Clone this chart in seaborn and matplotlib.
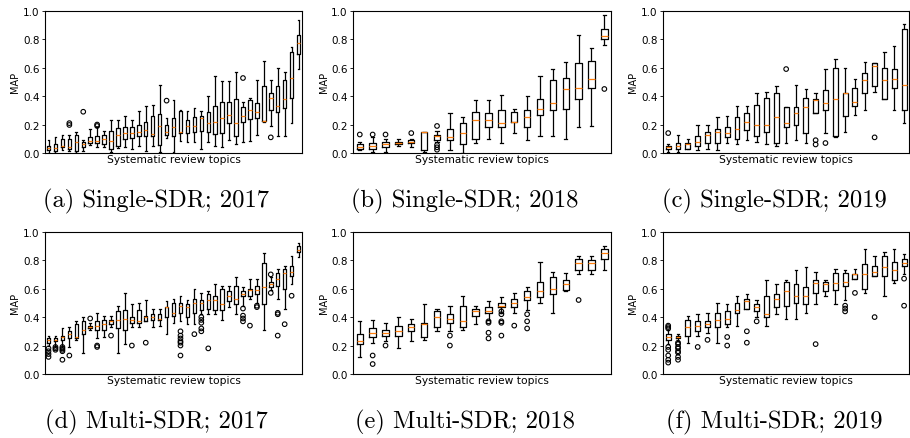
import pandas as pd
import seaborn as sns
import matplotlib.pyplot as plt
from matplotlib.markers import MarkerStyle

# every box: (whisker low, q1, median, q3, whisker high), then the outliers per box
single_2017 = [
    (0.00, 0.02, 0.035, 0.05, 0.09), (0.00, 0.015, 0.035, 0.06, 0.11), (0.02, 0.04, 0.05, 0.10, 0.13),
    (0.015, 0.03, 0.04, 0.10, 0.13), (0.00, 0.015, 0.08, 0.13, 0.145), (0.015, 0.04, 0.06, 0.08, 0.09),
    (0.055, 0.07, 0.085, 0.115, 0.17), (0.045, 0.07, 0.085, 0.117, 0.18), (0.04, 0.063, 0.098, 0.126, 0.157),
    (0.01, 0.028, 0.082, 0.152, 0.234), (0.033, 0.05, 0.126, 0.176, 0.234), (0.04, 0.10, 0.138, 0.18, 0.262),
    (0.028, 0.103, 0.138, 0.18, 0.234), (0.05, 0.122, 0.145, 0.20, 0.293), (0.016, 0.117, 0.164, 0.215, 0.328),
    (0.05, 0.117, 0.133, 0.262, 0.34), (0.01, 0.058, 0.187, 0.274, 0.478), (0.103, 0.129, 0.15, 0.197, 0.246),
    (0.01, 0.122, 0.185, 0.244, 0.375), (0.082, 0.14, 0.15, 0.293, 0.30), (0.08, 0.138, 0.192, 0.234, 0.297),
    (0.08, 0.15, 0.192, 0.25, 0.314), (0.028, 0.157, 0.244, 0.262, 0.293), (0.08, 0.15, 0.21, 0.286, 0.398),
    (0.05, 0.133, 0.22, 0.333, 0.543), (0.04, 0.14, 0.244, 0.36, 0.504), (0.09, 0.21, 0.27, 0.36, 0.508),
    (0.063, 0.117, 0.21, 0.38, 0.567), (0.08, 0.22, 0.26, 0.325, 0.356), (0.087, 0.24, 0.304, 0.375, 0.386),
    (0.126, 0.246, 0.286, 0.351, 0.515), (0.215, 0.227, 0.227, 0.468, 0.649), (0.192, 0.30, 0.39, 0.42, 0.513),
    (0.122, 0.29, 0.333, 0.468, 0.595), (0.122, 0.318, 0.38, 0.515, 0.567), (0.21, 0.384, 0.527, 0.712, 0.742),
    (0.59, 0.696, 0.773, 0.83, 0.937),
]
single_2017_out = [
    [], [], [], [0.197, 0.21], [], [0.29], [], [0.19, 0.20], [], [], [], [], [], [], [], [], [],
    [0.368], [], [], [], [], [], [], [], [], [], [], [0.527], [], [], [], [0.11], [], [], [], [],
]

single_2018 = [
    (0.02, 0.03, 0.04, 0.06, 0.08), (0.01, 0.03, 0.05, 0.07, 0.11), (0.01, 0.04, 0.06, 0.08, 0.10),
    (0.05, 0.06, 0.07, 0.08, 0.10), (0.04, 0.07, 0.08, 0.09, 0.10), (0.01, 0.023, 0.145, 0.145, 0.145),
    (0.075, 0.094, 0.122, 0.126, 0.157), (0.02, 0.09, 0.11, 0.17, 0.28), (0.00, 0.06, 0.14, 0.21, 0.25),
    (0.07, 0.10, 0.23, 0.29, 0.37), (0.10, 0.18, 0.23, 0.28, 0.37), (0.07, 0.18, 0.21, 0.30, 0.41),
    (0.14, 0.22, 0.22, 0.29, 0.31), (0.09, 0.18, 0.25, 0.30, 0.40), (0.12, 0.27, 0.31, 0.38, 0.54),
    (0.12, 0.30, 0.35, 0.51, 0.59), (0.10, 0.31, 0.45, 0.53, 0.64), (0.18, 0.38, 0.46, 0.63, 0.83),
    (0.19, 0.46, 0.52, 0.65, 0.74), (0.76, 0.80, 0.82, 0.87, 0.97),
]
single_2018_out = [
    [0.13], [0.13], [0.13], [], [0.14], [], [0.19, 0.056, 0.04, 0.023], [], [], [], [], [], [], [],
    [], [], [], [], [], [0.45],
]

single_2019 = [
    (0.01, 0.03, 0.04, 0.05, 0.06), (0.01, 0.03, 0.05, 0.07, 0.13), (0.03, 0.03, 0.06, 0.07, 0.10),
    (0.02, 0.05, 0.08, 0.12, 0.20), (0.03, 0.07, 0.13, 0.15, 0.20), (0.02, 0.07, 0.15, 0.17, 0.25),
    (0.07, 0.11, 0.14, 0.18, 0.26), (0.06, 0.10, 0.17, 0.25, 0.33), (0.09, 0.16, 0.22, 0.28, 0.33),
    (0.08, 0.12, 0.20, 0.34, 0.42), (0.06, 0.15, 0.20, 0.39, 0.43), (0.05, 0.07, 0.25, 0.42, 0.47),
    (0.07, 0.18, 0.21, 0.32, 0.32), (0.09, 0.20, 0.28, 0.32, 0.48), (0.07, 0.14, 0.32, 0.39, 0.45),
    (0.28, 0.28, 0.375, 0.38, 0.42), (0.14, 0.30, 0.35, 0.44, 0.59), (0.11, 0.12, 0.38, 0.60, 0.66),
    (0.15, 0.26, 0.42, 0.42, 0.60), (0.27, 0.33, 0.36, 0.46, 0.52), (0.30, 0.42, 0.51, 0.56, 0.64),
    (0.43, 0.47, 0.61, 0.63, 0.63), (0.38, 0.38, 0.51, 0.60, 0.71), (0.30, 0.46, 0.52, 0.59, 0.75),
    (0.21, 0.30, 0.48, 0.87, 0.91),
]
single_2019_out = [
    [0.14], [], [], [], [], [], [], [], [], [], [], [], [0.59], [], [], [0.06, 0.09], [0.07], [], [],
    [], [], [0.11], [], [], [],
]

multi_2017 = [
    (0.20, 0.22, 0.24, 0.25, 0.27), (0.20, 0.23, 0.24, 0.25, 0.27), (0.20, 0.24, 0.26, 0.27, 0.32),
    (0.19, 0.25, 0.28, 0.30, 0.33), (0.24, 0.25, 0.26, 0.35, 0.37), (0.15, 0.28, 0.31, 0.37, 0.40),
    (0.31, 0.32, 0.33, 0.34, 0.36), (0.25, 0.31, 0.34, 0.37, 0.43), (0.26, 0.31, 0.35, 0.38, 0.41),
    (0.33, 0.35, 0.37, 0.38, 0.41), (0.15, 0.32, 0.38, 0.44, 0.48), (0.21, 0.31, 0.39, 0.45, 0.57),
    (0.33, 0.36, 0.38, 0.40, 0.49), (0.33, 0.36, 0.37, 0.45, 0.50), (0.37, 0.37, 0.40, 0.41, 0.52),
    (0.33, 0.38, 0.40, 0.42, 0.46), (0.34, 0.38, 0.39, 0.42, 0.46), (0.28, 0.40, 0.47, 0.47, 0.51),
    (0.36, 0.41, 0.43, 0.50, 0.53), (0.37, 0.43, 0.48, 0.50, 0.55), (0.35, 0.40, 0.47, 0.49, 0.52),
    (0.35, 0.43, 0.50, 0.53, 0.60), (0.42, 0.45, 0.50, 0.52, 0.57), (0.42, 0.46, 0.52, 0.56, 0.58),
    (0.42, 0.45, 0.52, 0.55, 0.63), (0.38, 0.45, 0.49, 0.60, 0.62), (0.47, 0.51, 0.55, 0.58, 0.62),
    (0.42, 0.49, 0.53, 0.62, 0.68), (0.48, 0.55, 0.56, 0.58, 0.61), (0.53, 0.55, 0.59, 0.60, 0.67),
    (0.50, 0.56, 0.59, 0.62, 0.67), (0.31, 0.49, 0.61, 0.78, 0.85), (0.59, 0.61, 0.63, 0.65, 0.68),
    (0.53, 0.62, 0.67, 0.71, 0.74), (0.46, 0.60, 0.71, 0.74, 0.76), (0.63, 0.69, 0.72, 0.76, 0.83),
    (0.82, 0.86, 0.87, 0.90, 0.92),
]
multi_2017_out = [
    [0.12, 0.14, 0.16, 0.18], [0.17, 0.18, 0.19], [0.10, 0.16, 0.17, 0.18, 0.19], [0.13], [], [],
    [0.39], [0.19, 0.20], [], [0.27], [], [], [0.20], [], [0.22], [], [], [], [],
    [0.13, 0.20, 0.22, 0.23, 0.25, 0.27, 0.30], [], [0.28], [0.30, 0.32, 0.36, 0.38, 0.40], [0.18],
    [], [], [], [], [0.37, 0.39, 0.41, 0.46], [0.34], [0.47, 0.48], [], [0.57, 0.70],
    [0.27, 0.42, 0.43], [0.35], [0.55], [],
]

multi_2018 = [
    (0.12, 0.21, 0.23, 0.28, 0.37), (0.22, 0.26, 0.29, 0.32, 0.38), (0.23, 0.27, 0.29, 0.31, 0.36),
    (0.18, 0.27, 0.30, 0.34, 0.40), (0.23, 0.30, 0.33, 0.35, 0.39), (0.24, 0.26, 0.35, 0.36, 0.49),
    (0.30, 0.33, 0.40, 0.44, 0.46), (0.30, 0.36, 0.39, 0.42, 0.48), (0.31, 0.33, 0.37, 0.48, 0.55),
    (0.35, 0.41, 0.44, 0.46, 0.48), (0.38, 0.43, 0.44, 0.47, 0.51), (0.43, 0.47, 0.48, 0.50, 0.54),
    (0.43, 0.47, 0.50, 0.53, 0.57), (0.45, 0.52, 0.54, 0.58, 0.61), (0.50, 0.54, 0.58, 0.65, 0.79),
    (0.43, 0.56, 0.60, 0.68, 0.72), (0.58, 0.59, 0.63, 0.66, 0.71), (0.70, 0.73, 0.78, 0.81, 0.83),
    (0.70, 0.73, 0.78, 0.80, 0.83), (0.73, 0.81, 0.85, 0.88, 0.90),
]
multi_2018_out = [
    [], [0.07, 0.13], [0.20], [], [], [], [], [0.20, 0.27], [], [], [0.25, 0.29, 0.36, 0.37],
    [0.27, 0.36, 0.37, 0.42, 0.44], [0.34], [0.32, 0.37, 0.42], [], [], [], [0.52], [], [],
]

multi_2019 = [
    (0.21, 0.24, 0.26, 0.28, 0.31), (0.23, 0.25, 0.26, 0.27, 0.28), (0.22, 0.27, 0.33, 0.38, 0.41),
    (0.27, 0.30, 0.34, 0.37, 0.42), (0.29, 0.33, 0.35, 0.37, 0.43), (0.22, 0.33, 0.38, 0.43, 0.50),
    (0.33, 0.35, 0.39, 0.44, 0.49), (0.34, 0.43, 0.45, 0.50, 0.55), (0.46, 0.46, 0.51, 0.53, 0.56),
    (0.40, 0.44, 0.47, 0.49, 0.52), (0.34, 0.40, 0.42, 0.55, 0.66), (0.42, 0.47, 0.53, 0.56, 0.63),
    (0.39, 0.48, 0.58, 0.65, 0.66), (0.39, 0.50, 0.55, 0.63, 0.73), (0.43, 0.49, 0.55, 0.61, 0.75),
    (0.49, 0.57, 0.64, 0.66, 0.72), (0.55, 0.58, 0.63, 0.65, 0.66), (0.49, 0.59, 0.64, 0.71, 0.74),
    (0.52, 0.62, 0.65, 0.71, 0.73), (0.67, 0.67, 0.70, 0.70, 0.74), (0.57, 0.60, 0.70, 0.77, 0.88),
    (0.69, 0.69, 0.72, 0.76, 0.83), (0.55, 0.69, 0.75, 0.83, 0.86), (0.64, 0.66, 0.73, 0.79, 0.88),
    (0.70, 0.76, 0.78, 0.81, 0.84),
]
multi_2019_out = [
    [0.08, 0.10, 0.13, 0.17, 0.19, 0.32, 0.33, 0.34], [0.10, 0.12, 0.15, 0.16, 0.18, 0.19, 0.21, 0.22],
    [], [0.19], [0.24], [], [0.20, 0.26], [], [0.22, 0.30], [0.37], [], [], [], [], [], [0.21], [],
    [], [0.44, 0.46, 0.48], [0.57], [], [0.40], [], [], [0.48, 0.67],
]

captions = ["(a) Single-SDR; 2017", "(b) Single-SDR; 2018", "(c) Single-SDR; 2019",
            "(d) Multi-SDR; 2017", "(e) Multi-SDR; 2018", "(f) Multi-SDR; 2019"]

panels = [(single_2017, single_2017_out), (single_2018, single_2018_out), (single_2019, single_2019_out),
          (multi_2017, multi_2017_out), (multi_2018, multi_2018_out), (multi_2019, multi_2019_out)]

fig = plt.figure(figsize=(9.1, 4.39), dpi=100)

lefts = [0.0495, 0.3883, 0.7289]
widths = [0.2824, 0.2829, 0.270]
bottoms = [0.6492, 0.1458]
cap_x = [0.1714, 0.511, 0.851]
cap_y = [0.5399, 0.0387]

for k, (stats, outliers) in enumerate(panels):
    row, col = divmod(k, 3)
    ax = fig.add_axes([lefts[col], bottoms[row], widths[col], 0.3241])
    order = list(range(len(stats)))

    box_df = pd.DataFrame([(i, v) for i, s in enumerate(stats) for v in s], columns=["topic", "MAP"])
    out_df = pd.DataFrame([(i, v) for i, o in enumerate(outliers) for v in o], columns=["topic", "MAP"])

    # whiskers go to the given low/high values, outliers drawn on their own
    sns.boxplot(data=box_df, x="topic", y="MAP", order=order, whis=(0, 100), width=0.5,
                fill=False, color="black", linewidth=0.9,
                medianprops={"color": "#ff7f0e"}, ax=ax)
    sns.stripplot(data=out_df, x="topic", y="MAP", order=order, jitter=False,
                  marker=MarkerStyle("o", "none"), color="black", edgecolor="black",
                  linewidth=0.8, size=3.3, ax=ax)

    ax.set_ylim(0, 1)
    ax.set_xlim(-0.5, len(stats) - 0.5)
    ax.set_xticks([])
    ax.set_yticks([0, 0.2, 0.4, 0.6, 0.8, 1.0])
    ax.set_yticklabels(["0.0", "0.2", "0.4", "0.6", "0.8", "1.0"])
    ax.tick_params(axis="y", labelsize=7.5, length=2.5, width=0.6, pad=1.5)
    ax.set_xlabel("Systematic review topics", fontsize=7.7, labelpad=1)
    ax.set_ylabel("MAP", fontsize=7, labelpad=2)
    for sp in ax.spines.values():
        sp.set_linewidth(0.8)

    fig.text(cap_x[col], cap_y[row], captions[k], family="cmr10", fontsize=17.7,
             ha="center", va="center")

fig.savefig("out.png", dpi=100)
